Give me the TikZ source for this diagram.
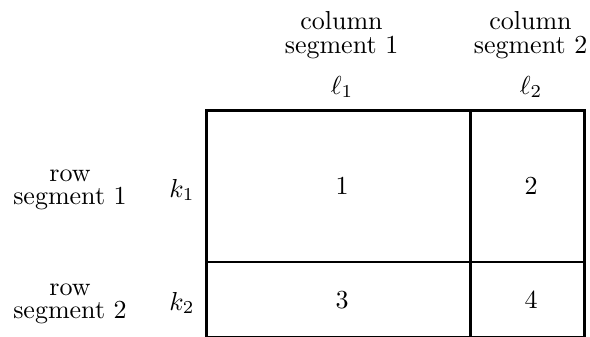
\documentclass[tikz,border=0pt]{standalone}
\begin{document}
\begin{tikzpicture}[x=0.3846pt,y=-0.3846pt,
  gridline/.style={line width=1.15pt},
  lbl/.style={align=center,inner sep=0pt},
  cell/.style={inner sep=0pt}]
\useasboundingbox (0,0) rectangle (590,336);
\begin{scope}
\clip (0,0) rectangle (590,336);
\draw[gridline] (206.5,110.5) rectangle (584.5,337.5);
\draw[gridline] (470.5,110.5) -- (470.5,337.5);
\draw[gridline] (206.5,262) -- (584.5,262);
\end{scope}
\node[lbl] (c1) at (341.5,35) {column\\[-3pt]segment 1};
\node[lbl] (c2) at (530.5,35) {column\\[-3pt]segment 2};
\node[cell] (l1) at (342,87) {$\ell_1$};
\node[cell] (l2) at (531,87) {$\ell_2$};
\node[lbl] (r1) at (70,190) {row\\[-3pt]segment 1};
\node[lbl] (r2) at (70,304) {row\\[-3pt]segment 2};
\node[cell] (k1) at (182,190) {$k_1$};
\node[cell] (k2) at (182,303) {$k_2$};
\node[cell] (n1) at (342,186) {1};
\node[cell] (n2) at (531,186) {2};
\node[cell] (n3) at (342,300) {3};
\node[cell] (n4) at (531,300) {4};
\end{tikzpicture}
\end{document}
